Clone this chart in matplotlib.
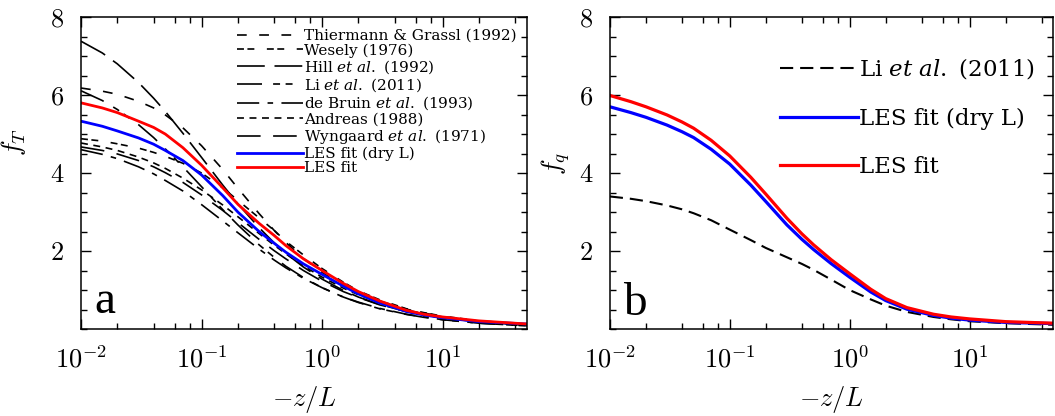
import matplotlib
matplotlib.use("Agg")
import matplotlib.pyplot as plt
from matplotlib.ticker import LogLocator, MultipleLocator, NullFormatter

plt.rcParams["font.family"] = "cmr10"
plt.rcParams["mathtext.fontset"] = "cm"
plt.rcParams["axes.unicode_minus"] = False
plt.rcParams["axes.formatter.use_mathtext"] = True
plt.rcParams["lines.scale_dashes"] = False

# -z/L sample points
zl = [0.01, 0.015, 0.02, 0.03, 0.04, 0.05, 0.07, 0.1, 0.15, 0.2, 0.3, 0.4,
      0.5, 0.7, 1, 1.5, 2, 3, 5, 7, 10, 20, 50]

# panel a: f_T
thiermann = [6.18, 6.10, 6.02, 5.84, 5.67, 5.49, 5.16, 4.70, 4.09, 3.61, 2.96, 2.53,
             2.22, 1.81, 1.45, 1.12, 0.93, 0.72, 0.51, 0.41, 0.32, 0.20, 0.11]
wesely = [4.88, 4.82, 4.75, 4.64, 4.53, 4.43, 4.25, 4.00, 3.62, 3.30, 2.85, 2.53,
          2.25, 1.90, 1.55, 1.20, 0.98, 0.75, 0.52, 0.42, 0.33, 0.21, 0.12]
hill = [7.38, 7.08, 6.80, 6.32, 5.92, 5.58, 5.02, 4.40, 3.69, 3.21, 2.60, 2.21,
        1.94, 1.59, 1.28, 0.99, 0.82, 0.63, 0.45, 0.36, 0.29, 0.18, 0.10]
li_t = [6.11, 5.86, 5.63, 5.24, 4.91, 4.62, 4.16, 3.65, 3.06, 2.67, 2.16, 1.84,
        1.61, 1.32, 1.06, 0.82, 0.68, 0.52, 0.375, 0.30, 0.24, 0.15, 0.08]
debruin = [4.60, 4.48, 4.37, 4.16, 3.98, 3.81, 3.54, 3.19, 2.77, 2.47, 2.05, 1.77,
           1.57, 1.30, 1.06, 0.82, 0.69, 0.53, 0.38, 0.31, 0.24, 0.15, 0.083]
andreas = [4.77, 4.67, 4.58, 4.41, 4.26, 4.12, 3.87, 3.57, 3.18, 2.88, 2.45, 2.15,
           1.93, 1.62, 1.33, 1.05, 0.88, 0.68, 0.49, 0.39, 0.31, 0.20, 0.11]
wyngaard = [4.67, 4.58, 4.49, 4.32, 4.16, 4.01, 3.76, 3.44, 3.04, 2.73, 2.30, 2.01,
            1.80, 1.50, 1.225, 0.96, 0.81, 0.62, 0.45, 0.36, 0.29, 0.18, 0.098]
les_dry_t = [5.33, 5.20, 5.08, 4.90, 4.74, 4.58, 4.32, 3.95, 3.42, 3.00, 2.50, 2.20,
             1.97, 1.67, 1.40, 1.10, 0.90, 0.67, 0.45, 0.36, 0.29, 0.19, 0.13]
les_t = [5.80, 5.67, 5.55, 5.33, 5.17, 5.00, 4.65, 4.20, 3.62, 3.20, 2.71, 2.40,
         2.14, 1.80, 1.50, 1.17, 0.96, 0.72, 0.48, 0.38, 0.31, 0.21, 0.13]

# panel b: f_q
li_q = [3.40, 3.34, 3.28, 3.17, 3.07, 2.97, 2.79, 2.55, 2.28, 2.08, 1.84, 1.67,
        1.52, 1.27, 1.00, 0.76, 0.60, 0.44, 0.31, 0.25, 0.20, 0.15, 0.11]
les_dry_q = [5.70, 5.55, 5.43, 5.23, 5.06, 4.91, 4.61, 4.23, 3.69, 3.27, 2.67, 2.30,
             2.04, 1.68, 1.33, 0.95, 0.73, 0.51, 0.35, 0.28, 0.23, 0.17, 0.14]
les_q = [5.99, 5.83, 5.70, 5.49, 5.31, 5.15, 4.84, 4.44, 3.89, 3.46, 2.84, 2.44,
         2.16, 1.78, 1.42, 1.02, 0.78, 0.55, 0.38, 0.31, 0.26, 0.19, 0.15]

LW_K = 1.2
LW_C = 2.0


def style_axes(ax):
    ax.set_xscale("log")
    ax.set_xlim(0.01, 50)
    ax.set_ylim(0, 8)
    ax.set_xticks([0.01, 0.1, 1, 10])
    ax.set_xticklabels([r"$10^{-2}$", r"$10^{-1}$", r"$10^{0}$", r"$10^{1}$"])
    ax.xaxis.set_minor_locator(LogLocator(base=10, subs=(2, 4, 6, 8)))
    ax.xaxis.set_minor_formatter(NullFormatter())
    ax.set_yticks([2, 4, 6, 8])
    ax.set_yticklabels([r"$2$", r"$4$", r"$6$", r"$8$"])
    ax.yaxis.set_minor_locator(MultipleLocator(0.5))
    ax.tick_params(which="both", direction="in", top=True, right=True, width=1.0)
    ax.tick_params(which="major", length=7, labelsize=19, pad=12)
    ax.tick_params(which="minor", length=4)
    for sp in ax.spines.values():
        sp.set_linewidth(1.1)
    ax.set_xlabel(r"$-z/L$", fontsize=19, labelpad=8)


fig = plt.figure(figsize=(10.55, 4.16), dpi=100)
ax1 = fig.add_axes([0.0768, 0.209, 0.4227, 0.75])
ax2 = fig.add_axes([0.578, 0.209, 0.4205, 0.75])

# --- panel a
ax1.plot(zl, thiermann, color="k", lw=LW_K, dashes=(7, 9), label="Thiermann & Grassl (1992)")
ax1.plot(zl, wesely, color="k", lw=LW_K, dashes=(5, 2.5, 5, 9), label="Wesely (1976)")
ax1.plot(zl, hill, color="k", lw=LW_K, dashes=(20, 7), label=r"Hill $et$ $al.$ (1992)")
ax1.plot(zl, li_t, color="k", lw=LW_K, dashes=(18, 8, 5, 4, 5, 8), label=r"Li $et$ $al.$ (2011)")
ax1.plot(zl, debruin, color="k", lw=LW_K, dashes=(16, 6, 4, 6), label=r"de Bruin $et$ $al.$ (1993)")
ax1.plot(zl, andreas, color="k", lw=LW_K, dashes=(5, 4), label="Andreas (1988)")
ax1.plot(zl, wyngaard, color="k", lw=LW_K, dashes=(17, 9), label=r"Wyngaard $et$ $al.$ (1971)")
ax1.plot(zl, les_dry_t, color="#0000ff", lw=LW_C, label="LES fit (dry L)")
ax1.plot(zl, les_t, color="#ff0000", lw=LW_C, label="LES fit")
style_axes(ax1)
ax1.set_ylabel(r"$f_T$", fontsize=19)
ax1.yaxis.set_label_coords(-0.12, 0.6)
leg1 = ax1.legend(loc="upper left", bbox_to_anchor=(0.35, 0.962), frameon=False,
                  prop={"family": "DejaVu Serif", "size": 11}, handlelength=4.3,
                  handletextpad=0.1, labelspacing=0.03, borderpad=0, borderaxespad=0)
for t in leg1.get_texts():
    t.set_math_fontfamily("dejavuserif")
ax1.text(0.031, 0.05, "a", transform=ax1.transAxes, fontsize=34,
         family="Liberation Serif")

# --- panel b
ax2.plot(zl, li_q, color="k", lw=1.5, dashes=(9.5, 5), label=r"Li $et$ $al.$ (2011)")
ax2.plot(zl, les_dry_q, color="#0000ff", lw=2.3, label="LES fit (dry L)")
ax2.plot(zl, les_q, color="#ff0000", lw=2.3, label="LES fit")
style_axes(ax2)
ax2.set_ylabel(r"$f_q$", fontsize=19)
ax2.yaxis.set_label_coords(-0.085, 0.53)
leg2 = ax2.legend(loc="upper left", bbox_to_anchor=(0.383, 0.874), frameon=False,
                  prop={"family": "DejaVu Serif", "size": 16.5}, handlelength=3.4,
                  handletextpad=0.05, labelspacing=1.15, borderpad=0, borderaxespad=0)
for t in leg2.get_texts():
    t.set_math_fontfamily("dejavuserif")
ax2.text(0.03, 0.045, "b", transform=ax2.transAxes, fontsize=34,
         family="Liberation Serif")

fig.savefig("out.png", dpi=100)
